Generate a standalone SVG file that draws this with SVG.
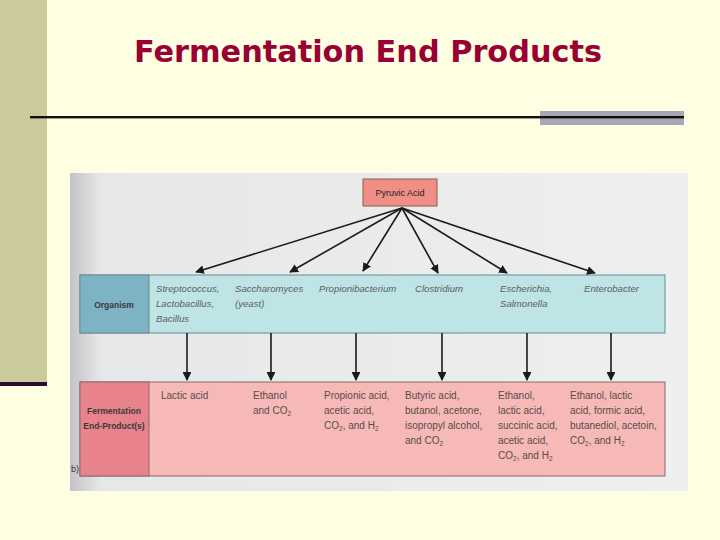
<svg xmlns="http://www.w3.org/2000/svg" width="720" height="540" viewBox="0 0 720 540">
<defs>
<style>
.org{font-family:"Liberation Sans",Arial,sans-serif;font-size:9.6px;font-style:italic;fill:#5a5f60}
.prod{font-family:"Liberation Sans",Arial,sans-serif;font-size:10px;fill:#5a4a4a}
.lab{font-family:"Liberation Sans",Arial,sans-serif;font-size:8.5px;font-weight:bold;fill:#3a3a3a;text-anchor:middle}
.sub{font-size:6.5px}
.conn{stroke:#1a1a1a;stroke-width:1.6;fill:none;marker-end:url(#ah)}
</style>
<marker id="ah" viewBox="0 0 10 10" refX="9" refY="5" markerWidth="5.5" markerHeight="5.5" orient="auto" markerUnits="strokeWidth">
<path d="M0,0 L10,5 L0,10 z" fill="#1a1a1a"/>
</marker>
<linearGradient id="imgbg" x1="0" y1="0" x2="1" y2="0">
<stop offset="0" stop-color="#c4c4c8"/>
<stop offset="0.05" stop-color="#e6e7e8"/>
<stop offset="1" stop-color="#eef0ef"/>
</linearGradient>
</defs>
<rect x="0" y="0" width="720" height="540" fill="#fefee2"/>
<rect x="0" y="0" width="47" height="382" fill="#caca9a"/>
<rect x="0" y="382" width="47" height="4" fill="#2a0c2c"/>
<text x="368" y="62" text-anchor="middle" font-family="'Comic Sans MS','DejaVu Sans',sans-serif" font-weight="bold" font-size="30" fill="#990033" textLength="468" lengthAdjust="spacingAndGlyphs">Fermentation End Products</text>
<rect x="540" y="111" width="144" height="14" fill="#a8a6b5"/>
<rect x="30" y="116" width="654" height="2.4" fill="#111"/>

<rect x="70" y="173" width="618" height="318" fill="url(#imgbg)"/>

<g id="pyruvic">
<rect x="363" y="179" width="74" height="27" fill="#ef8f85" stroke="#8a5a55" stroke-width="1"/>
<text x="400" y="196" text-anchor="middle" font-family="'Liberation Sans',Arial,sans-serif" font-size="9" fill="#222">Pyruvic Acid</text>
</g>

<g id="organism">
<rect x="80" y="275" width="585" height="58" fill="#bee4e6" stroke="#6a8a90" stroke-width="1"/>
<rect x="80" y="275" width="69" height="58" fill="#7eb3c4" stroke="#6a8a90" stroke-width="1"/>
<text class="lab" x="114" y="308">Organism</text>
<text class="org" x="156" y="292">Streptococcus,</text>
<text class="org" x="156" y="307">Lactobacillus,</text>
<text class="org" x="156" y="322">Bacillus</text>
<text class="org" x="235" y="292">Saccharomyces</text>
<text class="org" x="235" y="307">(yeast)</text>
<text class="org" x="319" y="292">Propionibacterium</text>
<text class="org" x="415" y="292">Clostridium</text>
<text class="org" x="500" y="292">Escherichia,</text>
<text class="org" x="500" y="307">Salmonella</text>
<text class="org" x="584" y="292">Enterobacter</text>
</g>

<g id="products">
<rect x="80" y="382" width="585" height="94" fill="#f6b9b8" stroke="#8a6a6a" stroke-width="1"/>
<rect x="80" y="382" width="69" height="94" fill="#e8838e" stroke="#8a6a6a" stroke-width="1"/>
<text class="lab" x="114" y="414">Fermentation</text>
<text class="lab" x="114" y="429">End-Product(s)</text>
<text class="prod" x="161" y="399">Lactic acid</text>
<text class="prod" x="253" y="399">Ethanol</text>
<text class="prod" x="253" y="414">and CO<tspan class="sub" dy="2">2</tspan></text>
<text class="prod" x="324" y="399">Propionic acid,</text>
<text class="prod" x="324" y="414">acetic acid,</text>
<text class="prod" x="324" y="429">CO<tspan class="sub" dy="2">2</tspan><tspan dy="-2">, and H</tspan><tspan class="sub" dy="2">2</tspan></text>
<text class="prod" x="405" y="399">Butyric acid,</text>
<text class="prod" x="405" y="414">butanol, acetone,</text>
<text class="prod" x="405" y="429">isopropyl alcohol,</text>
<text class="prod" x="405" y="444">and CO<tspan class="sub" dy="2">2</tspan></text>
<text class="prod" x="498" y="399">Ethanol,</text>
<text class="prod" x="498" y="414">lactic acid,</text>
<text class="prod" x="498" y="429">succinic acid,</text>
<text class="prod" x="498" y="444">acetic acid,</text>
<text class="prod" x="498" y="459">CO<tspan class="sub" dy="2">2</tspan><tspan dy="-2">, and H</tspan><tspan class="sub" dy="2">2</tspan></text>
<text class="prod" x="570" y="399">Ethanol, lactic</text>
<text class="prod" x="570" y="414">acid, formic acid,</text>
<text class="prod" x="570" y="429">butanediol, acetoin,</text>
<text class="prod" x="570" y="444">CO<tspan class="sub" dy="2">2</tspan><tspan dy="-2">, and H</tspan><tspan class="sub" dy="2">2</tspan></text>
</g>
<text x="71" y="472" font-family="'Liberation Sans',Arial,sans-serif" font-size="9" fill="#333">b)</text>

<g id="connectors">
<line class="conn" x1="402" y1="208" x2="196" y2="272"/>
<line class="conn" x1="402" y1="208" x2="290" y2="272"/>
<line class="conn" x1="402" y1="208" x2="363" y2="271"/>
<line class="conn" x1="402" y1="208" x2="438" y2="273"/>
<line class="conn" x1="402" y1="208" x2="507" y2="273"/>
<line class="conn" x1="402" y1="208" x2="595" y2="273"/>
<line class="conn" x1="187" y1="333" x2="187" y2="380"/>
<line class="conn" x1="271" y1="333" x2="271" y2="380"/>
<line class="conn" x1="356" y1="333" x2="356" y2="380"/>
<line class="conn" x1="442" y1="333" x2="442" y2="380"/>
<line class="conn" x1="527" y1="333" x2="527" y2="380"/>
<line class="conn" x1="611" y1="333" x2="611" y2="380"/>
</g>
</svg>
